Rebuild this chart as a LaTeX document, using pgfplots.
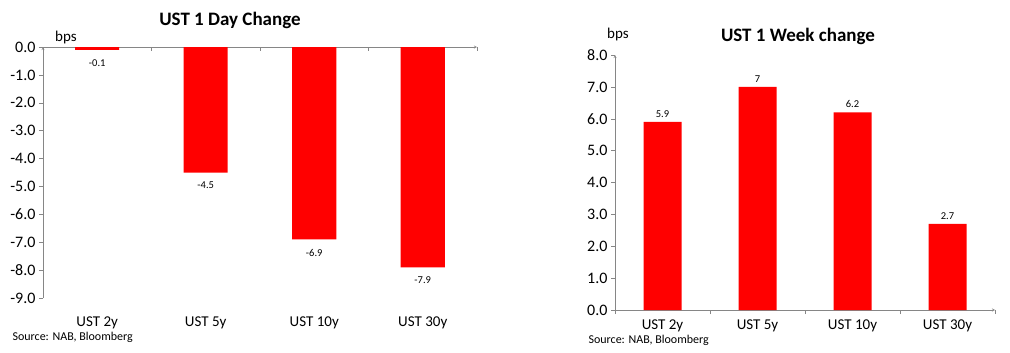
\documentclass[border=0pt]{standalone}
\usepackage{pgfplots}
\pgfplotsset{compat=1.18}
\usepackage{fontspec}
\setmainfont{Carlito}
\definecolor{barred}{RGB}{255,0,0}
\definecolor{axgray}{RGB}{134,134,134}
\begin{document}
\begin{tikzpicture}
\useasboundingbox (0,0) rectangle (1010pt,-353pt);
\pgfplotsset{
  common/.style={
    scale only axis,
    xmin=-0.5, xmax=3.5,
    axis line style={axgray,-},
    tick style={axgray, thin},
    major tick length=4pt,
    /pgf/number format/assume math mode=true,
    yticklabel style={/pgf/number format/fixed,/pgf/number format/fixed zerofill,/pgf/number format/precision=1,font=\fontsize{16}{19}\selectfont, text=black},
    xtick={-0.5,0.5,1.5,2.5,3.5},
    xticklabels={,,,,},
    ybar, bar width=44pt, bar shift=0pt,
    nodes near coords,
    nodes near coords style={font=\fontsize{10.5}{12}\selectfont, text=black},
    clip=false,
  }
}
% Left panel
\begin{axis}[common,
  at={(43pt,-298pt)}, anchor=south west,
  width=434pt, height=251pt,
  ymin=-9, ymax=0, ytick={-9,-8,...,0},
  axis x line=top, axis y line=left,
  tick align=outside,
  major x tick style={yshift=-4pt},
  nodes near coords style={yshift=-6pt},
]
\addplot[fill=barred, draw=none] coordinates {(0,-0.1) (1,-4.5) (2,-6.9) (3,-7.9)};
\node[font=\fontsize{15}{18}\selectfont] at (axis cs:0,-9) [yshift=-25pt] {UST 2y};
\node[font=\fontsize{15}{18}\selectfont] at (axis cs:1,-9) [yshift=-25pt] {UST 5y};
\node[font=\fontsize{15}{18}\selectfont] at (axis cs:2,-9) [yshift=-25pt] {UST 10y};
\node[font=\fontsize{15}{18}\selectfont] at (axis cs:3,-9) [yshift=-25pt] {UST 30y};
\end{axis}
% Right panel
\begin{axis}[common,
  at={(615pt,-310pt)}, anchor=south west,
  width=380pt, height=255pt,
  ymin=0, ymax=8, ytick={0,1,...,8},
  axis x line=bottom, axis y line=left,
  tick align=outside,
  bar width=38pt,
  nodes near coords style={yshift=1pt},
]
\addplot[fill=barred, draw=none] coordinates {(0,5.9) (1,7) (2,6.2) (3,2.7)};
\node[font=\fontsize{15}{18}\selectfont] at (axis cs:0,0) [yshift=-16pt] {UST 2y};
\node[font=\fontsize{15}{18}\selectfont] at (axis cs:1,0) [yshift=-16pt] {UST 5y};
\node[font=\fontsize{15}{18}\selectfont] at (axis cs:2,0) [yshift=-16pt] {UST 10y};
\node[font=\fontsize{15}{18}\selectfont] at (axis cs:3,0) [yshift=-16pt] {UST 30y};
\end{axis}
\node[font=\bfseries\fontsize{19}{22}\selectfont] at (230pt,-20pt) {UST 1 Day Change};
\node[font=\bfseries\fontsize{19}{22}\selectfont] at (798pt,-36pt) {UST 1 Week change};
\node[font=\fontsize{15}{18}\selectfont] at (66pt,-38pt) {bps};
\node[font=\fontsize{15}{18}\selectfont] at (618pt,-35pt) {bps};
\node[font=\fontsize{12}{14}\selectfont, anchor=west] at (9pt,-337pt) {Source: NAB, Bloomberg};
\node[font=\fontsize{12}{14}\selectfont, anchor=west] at (585pt,-340pt) {Source: NAB, Bloomberg};
\end{tikzpicture}
\end{document}
